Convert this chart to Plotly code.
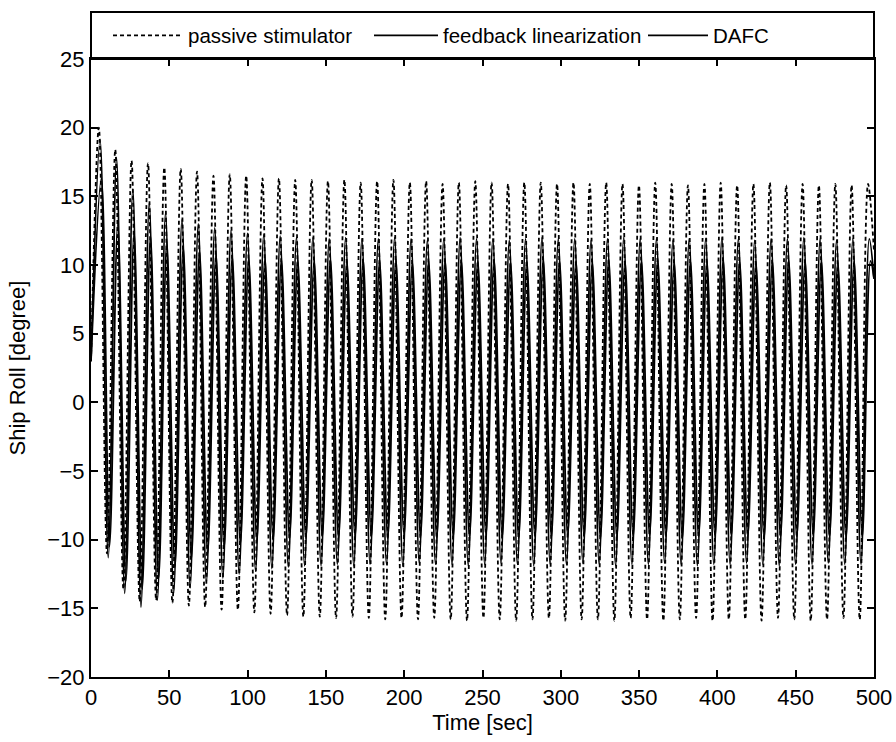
import plotly.graph_objects as go

# ---- data ----
peak_t = [5.0, 15.5, 25.9, 36.4, 46.8, 57.3, 67.7, 78.2,
          88.6, 99.1, 109.5, 120.0, 130.4, 140.9, 151.3, 161.8,
          172.2, 182.7, 193.1, 203.6, 214.0, 224.5, 234.9, 245.4,
          255.8, 266.3, 276.7, 287.2, 297.6, 308.1, 318.5, 329.0,
          339.4, 349.9, 360.3, 370.8, 381.2, 391.7, 402.1, 412.6,
          423.0, 433.5, 443.9, 454.4, 464.8, 475.3, 485.7, 496.2]
trough_t = [10.2, 20.7, 31.1, 41.6, 52.0, 62.5, 72.9, 83.4,
            93.8, 104.3, 114.7, 125.2, 135.6, 146.1, 156.5, 167.0,
            177.4, 187.9, 198.3, 208.8, 219.2, 229.7, 240.1, 250.6,
            261.0, 271.5, 281.9, 292.4, 302.8, 313.3, 323.7, 334.2,
            344.6, 355.1, 365.5, 376.0, 386.4, 396.9, 407.3, 417.8,
            428.2, 438.7, 449.1, 459.6, 470.0, 480.5, 490.9]
t_start, t_end = 0.0, 500.0

# phase lag of each response relative to the extremum times above (sec)
passive_lag, fl_lag, dafc_lag = 0.0, 0.8, 1.6

passive_start, passive_end = 3.0, 11.0
passive_max = [20.0, 18.4, 17.6, 17.4, 17.1, 17.0, 16.8, 16.5,
               16.6, 16.5, 16.3, 16.3, 16.2, 16.2, 16.1, 16.2,
               16.0, 16.1, 16.2, 16.0, 16.1, 15.9, 16.0, 16.1,
               16.0, 15.9, 16.0, 16.0, 15.9, 16.0, 15.9, 16.0,
               15.9, 15.8, 16.0, 15.9, 15.8, 15.9, 16.0, 15.8,
               15.9, 16.0, 15.8, 15.9, 15.8, 15.9, 15.8, 15.9]
passive_min = [-11.0, -13.6, -14.5, -14.4, -14.6, -14.8, -14.9, -15.1,
               -15.1, -15.3, -15.4, -15.5, -15.6, -15.6, -15.7, -15.6,
               -15.7, -15.8, -15.7, -15.8, -15.7, -15.8, -15.9, -15.7,
               -15.8, -15.9, -15.8, -15.7, -15.9, -15.8, -15.8, -15.9,
               -15.7, -15.8, -15.9, -15.8, -15.7, -15.9, -15.8, -15.8,
               -15.9, -15.7, -15.8, -15.9, -15.8, -15.7, -15.8]

fl_start, fl_end = 3.0, 9.0
fl_max = [19.1, 17.8, 15.5, 14.5, 13.8, 13.3, 13.0, 12.7,
          12.5, 12.3, 12.2, 12.1, 12.0, 12.0, 11.9, 12.0,
          11.9, 11.9, 12.0, 11.9, 11.8, 11.9, 12.0, 11.9,
          11.9, 11.8, 11.9, 12.0, 11.9, 11.9, 11.8, 11.9,
          12.0, 11.9, 11.9, 11.8, 11.9, 11.9, 12.0, 11.9,
          11.8, 11.9, 11.9, 12.0, 11.9, 11.8, 11.9, 11.9]
fl_min = [-11.3, -13.9, -14.9, -14.4, -13.9, -13.5, -13.1, -12.8,
          -12.5, -12.3, -12.1, -12.0, -11.9, -11.9, -11.8, -11.9,
          -11.8, -11.8, -11.9, -11.7, -11.8, -11.8, -11.9, -11.8,
          -11.7, -11.8, -11.9, -11.8, -11.8, -11.7, -11.8, -11.9,
          -11.8, -11.8, -11.7, -11.8, -11.9, -11.8, -11.8, -11.7,
          -11.8, -11.9, -11.8, -11.8, -11.7, -11.8, -11.8]

dafc_start, dafc_end = 3.0, 9.0
dafc_max = [16.3, 13.0, 12.4, 12.1, 11.7, 11.3, 11.0, 10.8,
            10.6, 10.5, 10.5, 10.4, 10.4, 10.3, 10.4, 10.3,
            10.4, 10.3, 10.4, 10.2, 10.3, 10.4, 10.3, 10.3,
            10.4, 10.2, 10.3, 10.4, 10.3, 10.3, 10.2, 10.4,
            10.3, 10.3, 10.4, 10.2, 10.3, 10.3, 10.4, 10.3,
            10.2, 10.3, 10.4, 10.3, 10.3, 10.2, 10.3, 10.3]
dafc_min = [-10.5, -13.0, -13.6, -12.8, -12.0, -11.4, -11.0, -10.6,
            -10.3, -10.1, -10.0, -9.9, -9.9, -9.8, -9.9, -9.8,
            -9.8, -9.9, -9.7, -9.8, -9.9, -9.8, -9.8, -9.7,
            -9.8, -9.9, -9.8, -9.8, -9.7, -9.8, -9.9, -9.8,
            -9.8, -9.7, -9.8, -9.9, -9.8, -9.8, -9.7, -9.8,
            -9.9, -9.8, -9.8, -9.7, -9.8, -9.9, -9.8]

x_ticks = [0, 50, 100, 150, 200, 250, 300, 350, 400, 450, 500]
y_ticks = [-20, -15, -10, -5, 0, 5, 10, 15, 20, 25]


def build(start, maxs, mins, end, lag):
    xs, ys = [t_start], [start]
    for i in range(len(peak_t)):
        if i < len(maxs):
            xs.append(peak_t[i] + lag); ys.append(maxs[i])
        if i < len(trough_t) and i < len(mins):
            xs.append(trough_t[i] + lag); ys.append(mins[i])
    xs.append(t_end); ys.append(end)
    return xs, ys


FONT = "Liberation Sans, Arial, Helvetica, sans-serif"
L, R, T, B = 91, 22, 59, 65
W, H = 896, 742
pw, ph = W - L - R, H - T - B
box_top = 1 + 47 / ph
leg_y = (1 + box_top) / 2

fig = go.Figure()
series = [
    ("passive stimulator", passive_start, passive_max, passive_min, passive_end, passive_lag, "4px,3px", "legend", 188, 70),
    ("feedback linearization", fl_start, fl_max, fl_min, fl_end, fl_lag, "solid", "legend2", 443, 64),
    ("DAFC", dafc_start, dafc_max, dafc_min, dafc_end, dafc_lag, "solid", "legend3", 713, 60),
]
legends = {}
for name, st, mx, mn, en, lag, dash, leg, text_x, item_w in series:
    xs, ys = build(st, mx, mn, en, lag)
    fig.add_trace(go.Scatter(x=xs, y=ys, mode="lines", name=name, legend=leg,
                             line=dict(color="black", width=1.8, dash=dash,
                                       shape="spline", smoothing=1.0)))
    legends[leg] = dict(orientation="h", x=(text_x - item_w - 10 - L) / pw, y=leg_y,
                        xanchor="left", yanchor="middle", itemwidth=item_w,
                        bgcolor="rgba(0,0,0,0)", borderwidth=0,
                        font=dict(family=FONT, size=20.5, color="black"))

fig.update_layout(
    width=W, height=H,
    margin=dict(l=L, r=R, t=T, b=B, autoexpand=False),
    paper_bgcolor="white", plot_bgcolor="white",
    font=dict(family=FONT, size=22, color="black"),
    showlegend=True,
    xaxis=dict(range=[0, 500], tickvals=x_ticks, ticks="inside", ticklen=7,
               tickwidth=1.5, tickcolor="black", showline=True, linewidth=2,
               linecolor="black", mirror="ticks", showgrid=False, zeroline=False,
               tickfont=dict(family=FONT, size=22),
               title=dict(text="Time [sec]", standoff=3, font=dict(family=FONT, size=22))),
    yaxis=dict(range=[-20, 25], tickvals=y_ticks, ticks="inside", ticklen=7,
               tickwidth=1.5, tickcolor="black", showline=True, linewidth=2,
               linecolor="black", mirror="ticks", showgrid=False, zeroline=False,
               tickfont=dict(family=FONT, size=22),
               title=dict(text="Ship Roll [degree]", standoff=16, font=dict(family=FONT, size=22))),
    shapes=[dict(type="rect", xref="paper", yref="paper", x0=0, x1=1,
                 y0=1, y1=box_top, line=dict(color="black", width=2),
                 fillcolor="rgba(0,0,0,0)")],
    **legends,
)

fig.write_html("out.html")
